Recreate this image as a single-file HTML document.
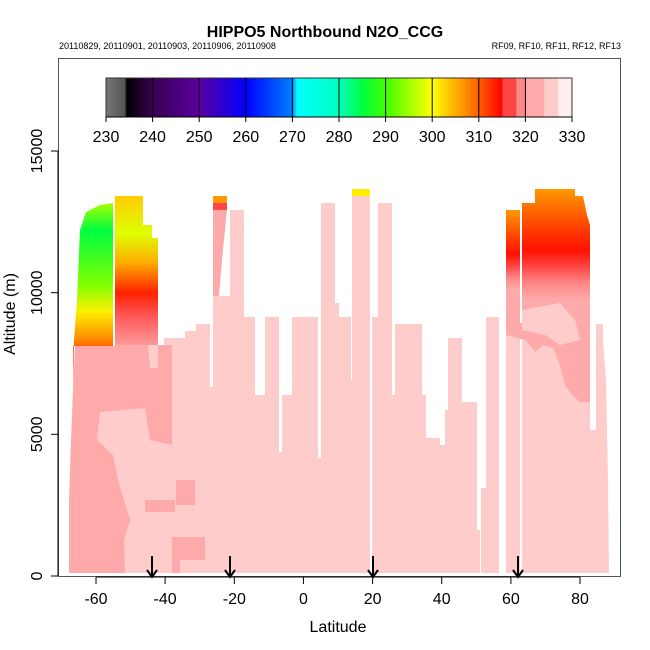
<!DOCTYPE html>
<html><head><style>
body{margin:0;background:#fff;}
svg{display:block;font-family:"Liberation Sans",Arial,sans-serif;}
</style></head><body>
<svg width="650" height="650" viewBox="0 0 650 650" xmlns="http://www.w3.org/2000/svg">
<defs>
<linearGradient id="cb" x1="0" x2="1" y1="0" y2="0">
<stop offset="0" stop-color="#777"/><stop offset="0.04" stop-color="#555"/><stop offset="0.045" stop-color="#000"/>
<stop offset="0.1" stop-color="#3a0050"/><stop offset="0.2" stop-color="#5a00a0"/><stop offset="0.3" stop-color="#0000ff"/>
<stop offset="0.4" stop-color="#0080ff"/><stop offset="0.41" stop-color="#00ffff"/><stop offset="0.5" stop-color="#00ffc0"/>
<stop offset="0.55" stop-color="#00ff40"/><stop offset="0.6" stop-color="#40ff00"/><stop offset="0.7" stop-color="#ffff00"/>
<stop offset="0.8" stop-color="#ff6000"/><stop offset="0.85" stop-color="#ff0000"/><stop offset="0.851" stop-color="#ff4444"/>
<stop offset="0.88" stop-color="#ff4444"/><stop offset="0.881" stop-color="#ff8888"/><stop offset="0.9" stop-color="#ff8888"/>
<stop offset="0.901" stop-color="#ffaaaa"/><stop offset="0.94" stop-color="#ffaaaa"/><stop offset="0.941" stop-color="#ffcccc"/>
<stop offset="0.97" stop-color="#ffcccc"/><stop offset="0.971" stop-color="#ffeeee"/><stop offset="1" stop-color="#ffeeee"/>
</linearGradient>
<linearGradient id="gl" x1="0" x2="0" y1="0" y2="1">
<stop offset="0" stop-color="#aaff00"/><stop offset="0.15" stop-color="#00ff40"/><stop offset="0.45" stop-color="#80ff00"/>
<stop offset="0.6" stop-color="#ffee00"/><stop offset="0.75" stop-color="#ff8800"/><stop offset="0.88" stop-color="#ff1100"/>
<stop offset="1" stop-color="#ff4444"/></linearGradient>
<linearGradient id="gr" x1="0" x2="0" y1="0" y2="1">
<stop offset="0" stop-color="#ffcc00"/><stop offset="0.25" stop-color="#ddff00"/><stop offset="0.45" stop-color="#ffaa00"/>
<stop offset="0.65" stop-color="#ff2200"/><stop offset="0.8" stop-color="#ff5555"/><stop offset="1" stop-color="#ff9999"/></linearGradient>
<linearGradient id="gR" x1="0" x2="0" y1="0" y2="1">
<stop offset="0" stop-color="#ff9900"/><stop offset="0.4" stop-color="#ff3300"/><stop offset="0.55" stop-color="#ff1100"/>
<stop offset="0.7" stop-color="#ff4444"/><stop offset="0.85" stop-color="#ff8888"/><stop offset="1" stop-color="#ffaaaa"/></linearGradient>
</defs>
<text x="325" y="37" text-anchor="middle" font-size="16" font-weight="bold">HIPPO5 Northbound N2O_CCG</text>
<text x="59" y="49" font-size="9">20110829, 20110901, 20110903, 20110906, 20110908</text>
<text x="621" y="49" font-size="9" text-anchor="end">RF09, RF10, RF11, RF12, RF13</text>
<g fill="#ffcccc">
<rect x="164" y="338" width="21" height="235"/>
<rect x="185" y="331" width="11" height="242"/>
<rect x="196" y="324" width="14" height="249"/>
<rect x="210" y="387" width="3" height="186"/>
<rect x="213" y="296" width="31" height="277"/>
<rect x="230" y="210" width="14" height="363"/>
<rect x="244" y="317" width="11" height="256"/>
<rect x="255" y="395" width="10" height="178"/>
<rect x="265" y="317" width="14" height="256"/>
<rect x="279" y="452" width="3" height="121"/>
<rect x="282" y="395" width="10" height="178"/>
<rect x="292" y="317" width="26" height="256"/>
<rect x="318" y="458" width="3" height="115"/>
<rect x="321" y="203" width="14" height="370"/>
<rect x="335" y="303" width="4" height="270"/>
<rect x="339" y="317" width="12" height="256"/>
<rect x="351" y="380" width="1" height="193"/>
<rect x="352" y="196" width="18" height="377"/>
<rect x="372" y="317" width="6" height="256"/>
<rect x="378" y="203" width="14" height="370"/>
<rect x="392" y="395" width="3" height="178"/>
<rect x="395" y="324" width="27" height="249"/>
<rect x="422" y="395" width="4" height="178"/>
<rect x="426" y="438" width="14" height="135"/>
<rect x="440" y="445" width="5" height="128"/>
<rect x="445" y="410" width="3" height="163"/>
<rect x="448" y="338" width="14" height="235"/>
<rect x="462" y="402" width="15" height="171"/>
<rect x="477" y="530" width="3" height="43"/>
<rect x="481" y="488" width="5" height="85"/>
<rect x="486" y="317" width="13" height="256"/>
<rect x="506" y="285" width="14" height="288"/>
<rect x="522" y="285" width="68" height="288"/>
<rect x="590" y="430" width="6" height="143"/>
<rect x="596" y="324" width="7" height="249"/>
<polygon points="603,340 606,380 608,480 609,573 603,573"/>
</g>
<polygon fill="#ffaaaa" points="69,573 69,500 71,440 73,390 75,345 172,345 172,445 164,445 164,573"/>
<polygon fill="#ffcccc" points="100,412 145,408 150,440 172,445 172,573 125,573 124,540 130,520 118,480 113,455 97,440"/>
<polygon fill="#ffaaaa" points="145,500 175,500 175,512 145,512"/>
<polygon fill="#ffaaaa" points="172,537 205,537 205,560 180,560 180,573 172,573"/>
<polygon fill="#ffaaaa" points="176,480 195,480 195,505 176,505"/>
<polygon fill="#ffcccc" points="148,345 158,345 158,368 150,368"/>
<polygon fill="url(#gl)" points="73,385 74,340 77,300 80,230 86,212 100,205 113,203 113,346 73,346"/>
<polygon fill="url(#gr)" points="115,196 143,196 143,225 152,225 152,238 158,238 158,345 115,345"/>
<rect x="113" y="196" width="2" height="150" fill="#fff"/>
<rect x="213" y="196" width="14" height="7" fill="#ff9900"/>
<rect x="213" y="203" width="14" height="7" fill="#ff4444"/>
<polygon fill="#ffaaaa" points="213,210 227,210 222,260 219,296 213,296"/>
<rect x="352" y="189" width="18" height="7" fill="#ffee00"/>
<polygon fill="#ffaaaa" points="506,285 590,285 590,402 580,402 572,395 565,385 560,365 553,348 543,345 535,352 525,340 506,335"/>
<polygon fill="#ffcccc" points="522,310 560,303 575,320 580,340 560,345 545,335 522,330"/>
<polygon fill="url(#gR)" points="506,210 520,210 520,290 506,290"/>
<polygon fill="url(#gR)" points="522,203 535,203 535,189 575,189 575,196 583,196 587,215 590,225 590,300 522,300"/>
<rect x="520" y="200" width="2" height="123" fill="#fff"/>
<rect x="58.5" y="58.5" width="562" height="518" fill="none" stroke="#555" stroke-width="1"/>
<rect x="106" y="78" width="466" height="39" fill="url(#cb)" stroke="#333"/>
<g stroke="#000" stroke-width="1">
<line x1="152.6" y1="78" x2="152.6" y2="122"/><line x1="199.2" y1="78" x2="199.2" y2="122"/>
<line x1="245.8" y1="78" x2="245.8" y2="122"/><line x1="292.4" y1="78" x2="292.4" y2="122"/>
<line x1="339" y1="78" x2="339" y2="122"/><line x1="385.6" y1="78" x2="385.6" y2="122"/>
<line x1="432.2" y1="78" x2="432.2" y2="122"/><line x1="478.8" y1="78" x2="478.8" y2="122"/>
<line x1="525.4" y1="78" x2="525.4" y2="122"/>
<line x1="106" y1="117" x2="572" y2="117"/><line x1="106" y1="117" x2="106" y2="122"/><line x1="572" y1="117" x2="572" y2="122"/>
</g>
<g font-size="16" text-anchor="middle">
<text x="106" y="142">230</text><text x="152.6" y="142">240</text><text x="199.2" y="142">250</text>
<text x="245.8" y="142">260</text><text x="292.4" y="142">270</text><text x="339" y="142">280</text>
<text x="385.6" y="142">290</text><text x="432.2" y="142">300</text><text x="478.8" y="142">310</text>
<text x="525.4" y="142">320</text><text x="572" y="142">330</text>
</g>
<g stroke="#000">
<line x1="96" y1="577" x2="580" y2="577"/>
<line x1="96" y1="577" x2="96" y2="584"/><line x1="165.1" y1="577" x2="165.1" y2="584"/>
<line x1="234.3" y1="577" x2="234.3" y2="584"/><line x1="303.4" y1="577" x2="303.4" y2="584"/>
<line x1="372.6" y1="577" x2="372.6" y2="584"/><line x1="441.7" y1="577" x2="441.7" y2="584"/>
<line x1="510.9" y1="577" x2="510.9" y2="584"/><line x1="580" y1="577" x2="580" y2="584"/>
<line x1="58" y1="151" x2="58" y2="576"/>
<line x1="51" y1="576" x2="58" y2="576"/><line x1="51" y1="434.3" x2="58" y2="434.3"/>
<line x1="51" y1="292.7" x2="58" y2="292.7"/><line x1="51" y1="151" x2="58" y2="151"/>
</g>
<g font-size="16" text-anchor="middle">
<text x="96" y="604">-60</text><text x="165.1" y="604">-40</text><text x="234.3" y="604">-20</text>
<text x="303.4" y="604">0</text><text x="372.6" y="604">20</text><text x="441.7" y="604">40</text>
<text x="510.9" y="604">60</text><text x="580" y="604">80</text>
<text x="338" y="632">Latitude</text>
</g>
<g font-size="16" text-anchor="middle">
<text transform="translate(42,576) rotate(-90)">0</text>
<text transform="translate(42,434.3) rotate(-90)">5000</text>
<text transform="translate(42,292.7) rotate(-90)">10000</text>
<text transform="translate(42,151) rotate(-90)">15000</text>
<text transform="translate(15,314) rotate(-90)">Altitude (m)</text>
</g>
<g stroke="#000" stroke-width="2" fill="none">
<path d="M152,556 V577 M147,570 L152,577 L157,570"/>
<path d="M230,556 V577 M225,570 L230,577 L235,570"/>
<path d="M373,556 V577 M368,570 L373,577 L378,570"/>
<path d="M518,556 V577 M513,570 L518,577 L523,570"/>
</g>
</svg>
</body></html>
